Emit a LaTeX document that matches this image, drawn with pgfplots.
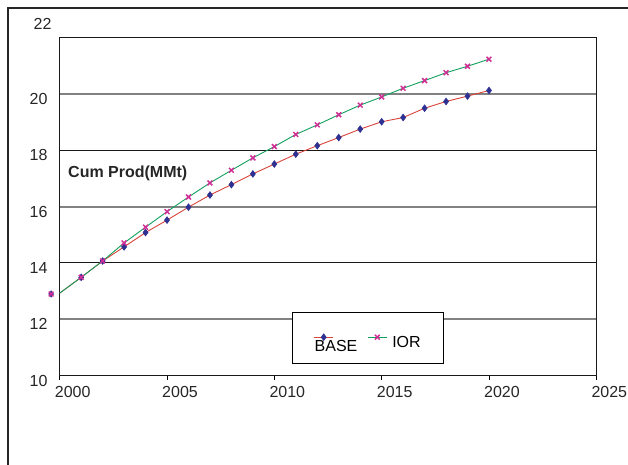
\documentclass[border=0pt]{standalone}
\usepackage{fontspec}
\setmainfont{Liberation Sans}
\usepackage{pgfplots}
\pgfplotsset{compat=1.18}
\definecolor{baseln}{HTML}{D8443A}
\definecolor{basemk}{HTML}{2E3192}
\definecolor{iorln}{HTML}{13A05E}
\definecolor{iormk}{HTML}{D12E96}
\definecolor{gridgray}{HTML}{828282}
\pgfplotstableread{
x y
2000 12.93
2001 13.49
2002 14.07
2003 14.57
2004 15.08
2005 15.52
2006 15.98
2007 16.41
2008 16.78
2009 17.16
2010 17.51
2011 17.86
2012 18.16
2013 18.45
2014 18.75
2015 19.01
2016 19.16
2017 19.49
2018 19.73
2019 19.92
2020 20.12
}\basedata
\pgfplotstableread{
x y
2000 12.93
2001 13.49
2002 14.07
2003 14.71
2004 15.27
2005 15.82
2006 16.34
2007 16.84
2008 17.29
2009 17.73
2010 18.13
2011 18.56
2012 18.90
2013 19.26
2014 19.60
2015 19.89
2016 20.20
2017 20.47
2018 20.75
2019 20.98
2020 21.23
}\iordata
\pgfplotstableread{
x y
1999.6 12.90
}\stray
\begin{document}
\fontsize{16}{19}\selectfont
\begin{tikzpicture}
\useasboundingbox (0pt,0pt) rectangle (628pt,464pt);
\draw[line width=2pt, color=black!85] (8pt,-2pt) -- (8pt,456pt) -- (630pt,456pt);
\begin{axis}[
  at={(59.7pt,88.3pt)}, anchor=south west,
  scale only axis, width=536.6pt, height=338.2pt,
  xmin=2000, xmax=2025, ymin=10, ymax=22,
  clip=false,
  axis line style={line width=1.1pt, black!90},
  xtick={2000,2005,...,2025},
  ytick={10,12,...,20},
  xtick pos=bottom, ytick pos=left,
  xtick style={black, line width=0.8pt},
  ytick style={draw=none},
  tick align=outside, major tick length=4pt,
  /pgf/number format/assume math mode=true,
  /pgf/number format/1000 sep={},
  tick label style={font=\fontsize{16}{19}\selectfont, text=black!85},
  xticklabel style={anchor=north west, inner sep=0pt, xshift=-5pt, yshift=-6pt},
  yticklabel style={anchor=east, inner sep=0pt, xshift=-8pt, yshift=-5pt},
  ymajorgrids,
  major grid style={black!90, line width=1pt},
  extra y ticks={12,16,20},
  extra y tick labels={},
  extra y tick style={grid=major, major grid style={draw=gridgray, line width=2pt}, ytick style={draw=none}},
  legend columns=2,
  legend style={at={(0.4335,0.1875)}, anchor=north west, draw=black, line width=0.9pt,
    inner xsep=21pt, inner ysep=7pt,
    font=\fontsize{16}{19}\selectfont,
    /tikz/every even column/.append style={column sep=8pt}},
  legend image code/.code={\path (0pt,23pt); \draw[mark repeat=2,mark phase=2,#1] plot coordinates {(0pt,6pt)(9.5pt,6pt)(19pt,6pt)};},
]
\addplot[baseln, line width=0.9pt, mark=diamond*, mark size=3.3pt, mark phase=2,
  mark options={basemk, fill=basemk, line width=0.7pt}] table[x=x,y=y] {\basedata};
\addlegendentry[yshift=-4pt]{\hspace*{-21pt}BASE}
\addplot[iorln, line width=0.9pt, mark=x, mark size=3.4pt, mark phase=2,
  mark options={iormk, line width=1.5pt}] table[x=x,y=y] {\iordata};
\addlegendentry{\hspace*{3pt}IOR}
\addplot[only marks, mark=diamond*, mark size=3.3pt, basemk, fill=basemk, forget plot] table[x=x,y=y] {\stray};
\addplot[only marks, mark=x, mark size=3.4pt, iormk, line width=1.5pt, forget plot] table[x=x,y=y] {\stray};
\node[anchor=east, inner sep=0pt, text=black!85] at (rel axis cs:0,1) [xshift=-8pt, yshift=13.7pt] {22};
\node[anchor=west, inner sep=0pt, font=\bfseries\fontsize{16}{19}\selectfont, text=black!85] at (rel axis cs:0,0.6) [xshift=8.3pt, yshift=-0.2pt] {Cum Prod(MMt)};
\end{axis}
\end{tikzpicture}
\end{document}
